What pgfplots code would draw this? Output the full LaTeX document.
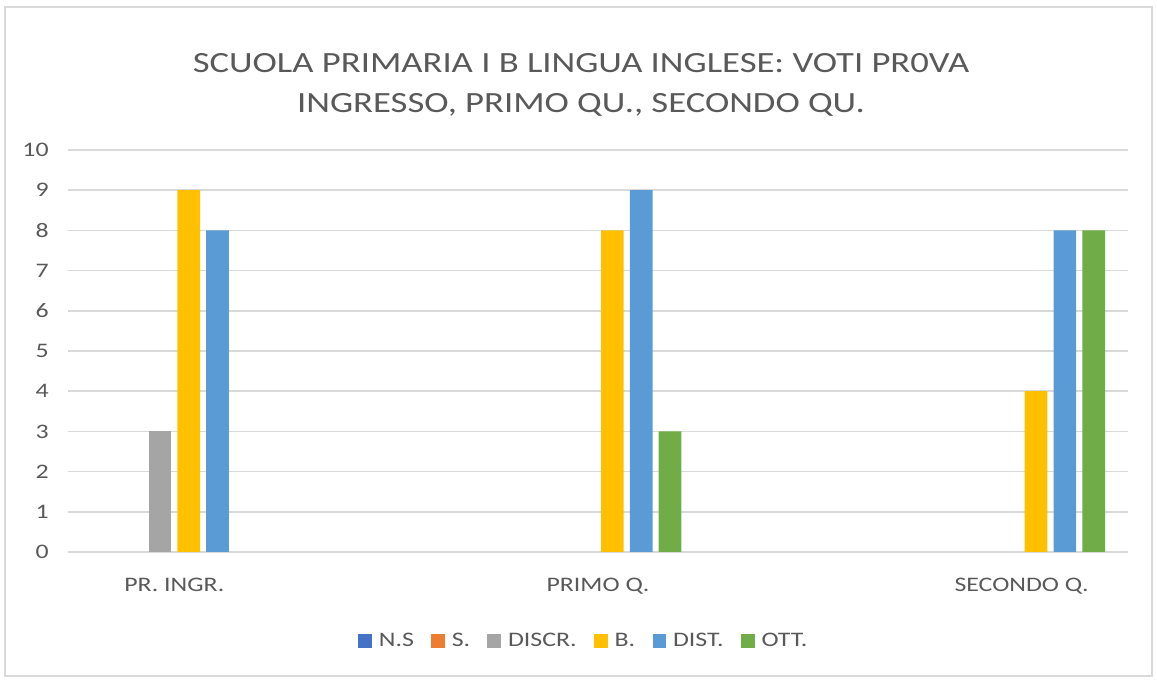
\documentclass[border=0pt]{standalone}
\usepackage{fontspec}
\setmainfont{Carlito}[FakeStretch=1.25]
\usepackage{pgfplots}
\pgfplotsset{compat=1.18}
\definecolor{cNS}{HTML}{4472C4}
\definecolor{cS}{HTML}{ED7D31}
\definecolor{cDI}{HTML}{A5A5A5}
\definecolor{cB}{HTML}{FFC000}
\definecolor{cDS}{HTML}{5B9BD5}
\definecolor{cOT}{HTML}{70AD47}
\definecolor{txt}{HTML}{595959}
\definecolor{grd}{HTML}{D9D9D9}
\begin{document}
\begin{tikzpicture}
\path (-51pt,-96.75pt) rectangle (816.75pt,414pt);
\draw[grd, line width=0.9pt] (-47.25pt,-93pt) rectangle (813pt,408.75pt);
\begin{axis}[
  at={(0pt,0pt)}, anchor=south west,
  scale only axis, width=795pt, height=301.5pt,
  xmin=-0.251, xmax=2.251, ymin=0, ymax=10,
  ybar, bar width=17pt,
  xtick={0,1,2}, xticklabels={PR. INGR., PRIMO Q., SECONDO Q.},
  ytick={0,1,...,10},
  ymajorgrids, grid style={grd, line width=1.2pt},
  axis line style={draw=none},
  major tick length=0pt,
  /pgf/number format/assume math mode=true,
  tick label style={font=\fontsize{15.5}{18}\selectfont, text=txt},
  yticklabel style={xshift=-11pt},
  xticklabel style={yshift=-16pt},
  title={SCUOLA PRIMARIA I B LINGUA INGLESE: VOTI PR0VA\\INGRESSO, PRIMO QU., SECONDO QU.},
  title style={font=\fontsize{22}{30}\selectfont, text=txt, align=center,
    at={(axis description cs:0.484,1)}, anchor=south, yshift=16pt},
  legend columns=6,
  legend style={draw=none, font=\fontsize{15.5}{18}\selectfont, text=txt,
    at={(axis description cs:0.487,-0.221)}, anchor=center,
    /tikz/every odd column/.append style={column sep=3pt},
    /tikz/every even column/.append style={column sep=11pt},
    inner sep=0pt},
  every axis plot post/.append style={draw=none,
    legend image code/.code={\fill[##1] (0pt,-5.2pt) rectangle (10.4pt,5.2pt);}},
  y filter/.expression={y==0 ? nan : y},
  unbounded coords=jump,
]
\addlegendimage{fill=cNS, draw=none}
\addlegendimage{fill=cS, draw=none}
\addplot[fill=cDI, bar shift=-10.8pt] coordinates {(0,3) (1,0) (2,0)};
\addplot[fill=cB, bar shift=10.8pt] coordinates {(0,9) (1,8) (2,4)};
\addplot[fill=cDS, bar shift=32.4pt] coordinates {(0,8) (1,9) (2,8)};
\addplot[fill=cOT, bar shift=54pt] coordinates {(0,0) (1,3) (2,8)};
\legend{N.S, S., DISCR., B., DIST., OTT.}
\end{axis}
\end{tikzpicture}
\end{document}
